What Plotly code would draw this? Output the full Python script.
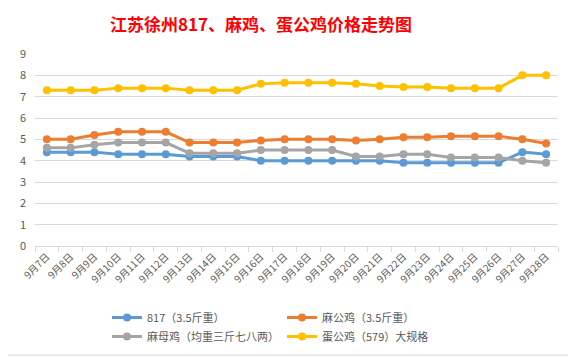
import plotly.graph_objects as go

dates = ["9月7日", "9月8日", "9月9日", "9月10日", "9月11日", "9月12日", "9月13日", "9月14日",
         "9月15日", "9月16日", "9月17日", "9月18日", "9月19日", "9月20日", "9月21日", "9月22日",
         "9月23日", "9月24日", "9月25日", "9月26日", "9月27日", "9月28日"]

s817 = [4.4, 4.4, 4.4, 4.3, 4.3, 4.3, 4.2, 4.2, 4.2, 4.0, 4.0, 4.0, 4.0, 4.0, 4.0, 3.9,
        3.9, 3.9, 3.9, 3.9, 4.4, 4.3]
ma_gong = [5.0, 5.0, 5.2, 5.35, 5.35, 5.35, 4.85, 4.85, 4.85, 4.95, 5.0, 5.0, 5.0, 4.95,
           5.0, 5.1, 5.1, 5.15, 5.15, 5.15, 5.0, 4.8]
ma_mu = [4.6, 4.6, 4.75, 4.85, 4.85, 4.85, 4.35, 4.35, 4.35, 4.5, 4.5, 4.5, 4.5, 4.2,
         4.2, 4.3, 4.3, 4.15, 4.15, 4.15, 4.0, 3.9]
dan_gong = [7.3, 7.3, 7.3, 7.4, 7.4, 7.4, 7.3, 7.3, 7.3, 7.6, 7.65, 7.65, 7.65, 7.6,
            7.5, 7.45, 7.45, 7.4, 7.4, 7.4, 8.0, 8.0]

names = ["817（3.5斤重）", "麻公鸡（3.5斤重）", "麻母鸡（均重三斤七八两）", "蛋公鸡（579）大规格"]
colors = ["#5B9BD5", "#ED7D31", "#A5A5A5", "#FFC000"]
series = [s817, ma_gong, ma_mu, dan_gong]
legend_rows = ["legend", "legend", "legend2", "legend2"]

FONT = "Noto Sans CJK SC, Noto Sans, sans-serif"

# page has an 8px body margin; figure sized to fit the 576x358 window
W, H = 568, 350
L, T = 27, 46          # plot area left/top in figure coords
PW, PH = 523, 192      # plot area size

fig = go.Figure()
for name, col, vals, lg in zip(names, colors, series, legend_rows):
    fig.add_trace(go.Scatter(
        x=dates, y=vals, name=name, mode="lines+markers", legend=lg,
        line=dict(color=col, width=3),
        marker=dict(color=col, size=8, symbol="circle"),
    ))

leg_common = dict(orientation="h", x=(99 - L) / PW, xanchor="left", yanchor="top",
                  entrywidth=130, entrywidthmode="pixels", traceorder="normal",
                  font=dict(family=FONT, size=11, color="#595959"),
                  itemwidth=30, tracegroupgap=0, bgcolor="rgba(0,0,0,0)")

fig.update_layout(
    width=W, height=H,
    margin=dict(l=L, r=W - L - PW, t=T, b=H - T - PH, pad=0, autoexpand=False),
    paper_bgcolor="white", plot_bgcolor="white",
    font=dict(family=FONT, size=11, color="#595959"),
    title=dict(text="江苏徐州817、麻鸡、蛋公鸡价格走势图",
               font=dict(family=FONT, size=17, color="#FF0000", weight="bold"),
               x=253 / W, xanchor="center", y=1 - 17 / H, yanchor="middle",
               xref="container", yref="container"),
    showlegend=True,
    legend=dict(leg_common, y=-(295 - (T + PH)) / PH),
    legend2=dict(leg_common, y=-(314 - (T + PH)) / PH),
    shapes=[dict(type="rect", xref="paper", yref="paper",
                 x0=(-5 - L) / PW, x1=(565 - L) / PW,
                 y0=-(347 - (T + PH)) / PH, y1=1 + (T + 5) / PH,
                 line=dict(color="#D9D9D9", width=1), fillcolor="rgba(0,0,0,0)", layer="below")],
)

fig.update_xaxes(
    type="category", range=[-0.5, len(dates) - 0.5], tickangle=-45, tickson="boundaries",
    automargin=False, ticks="outside", ticklen=5, tickcolor="#D9D9D9",
    showline=True, linecolor="#D9D9D9", linewidth=1,
    showgrid=False, zeroline=False,
    tickfont=dict(family=FONT, size=10, color="#595959"),
)
fig.update_yaxes(
    range=[0, 9], dtick=1, tick0=0, showgrid=True, gridcolor="#D9D9D9", gridwidth=1,
    zeroline=False, showline=False, ticks="", automargin=False, ticklabelstandoff=8,
    tickfont=dict(family=FONT, size=11, color="#595959"),
)

fig.write_html("out.html")
